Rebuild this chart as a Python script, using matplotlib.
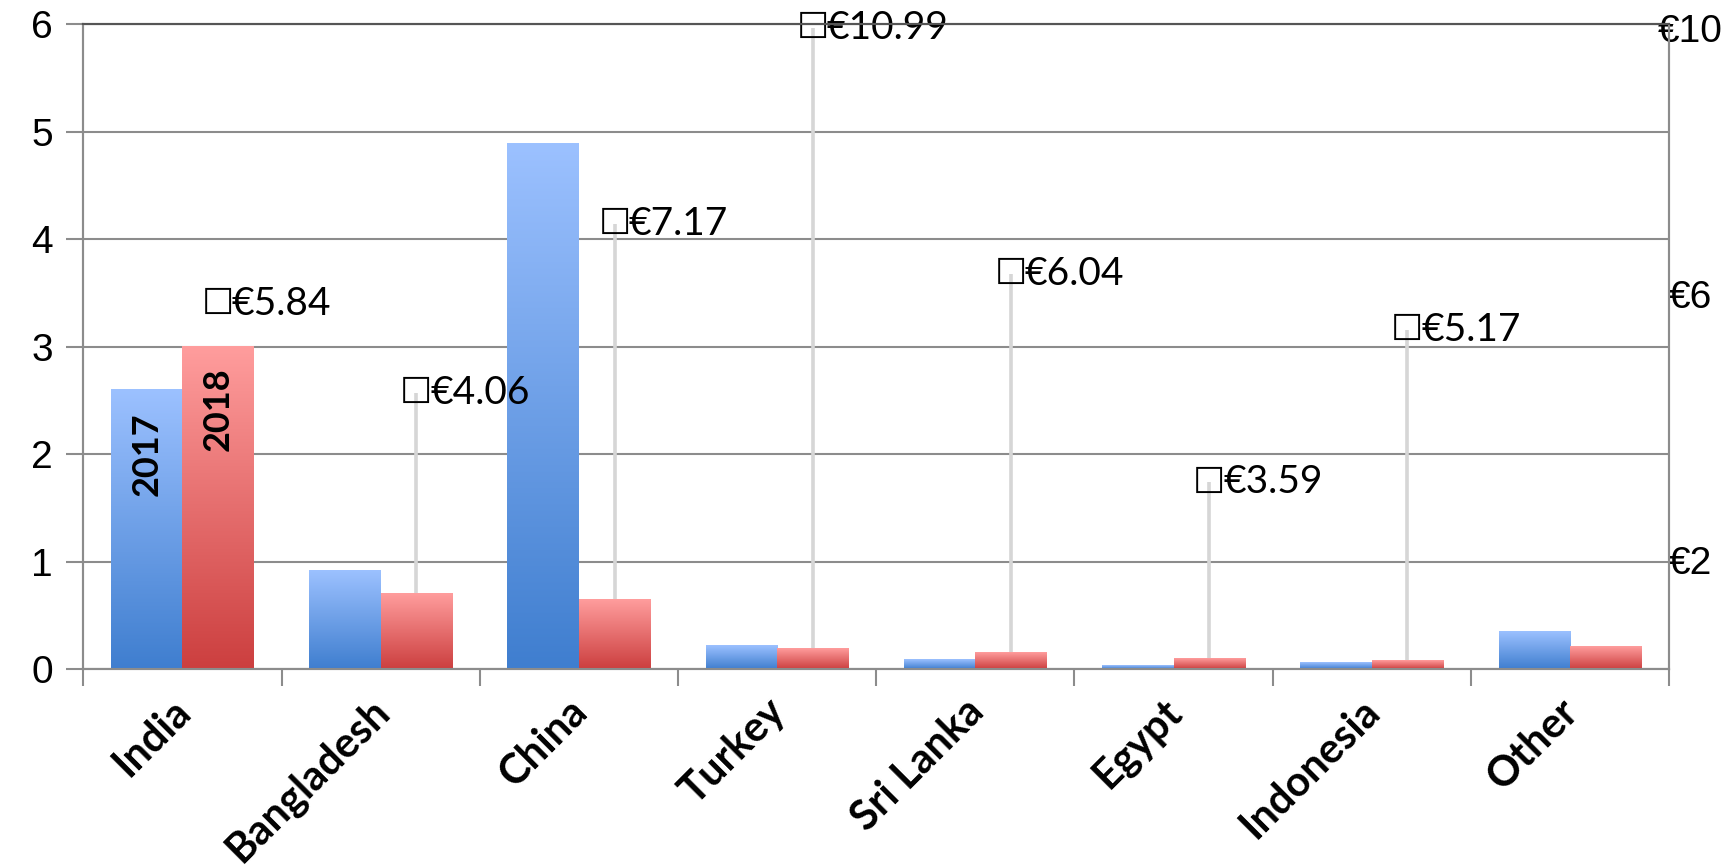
import matplotlib.pyplot as plt
import matplotlib.transforms as mtransforms
import numpy as np
from matplotlib.colors import LinearSegmentedColormap

# data
countries = ['India', 'Bangladesh', 'China', 'Turkey', 'Sri Lanka', 'Egypt', 'Indonesia', 'Other']
share_2017 = [2.60, 0.92, 4.89, 0.22, 0.09, 0.03, 0.06, 0.35]
share_2018 = [3.00, 0.70, 0.65, 0.19, 0.15, 0.10, 0.08, 0.21]
# average price per item (right axis, €) - label text and drawn level
price_text = ['€5.84', '€4.06', '€7.17', '€10.99', '€6.04', '€3.59', '€5.17']
price_level = [5.85, 4.51, 7.04, 10.0, 6.30, 3.16, 5.46]
has_drop = [False, True, True, True, True, True, True]  # India shows no drop line

left_ticks = [0, 1, 2, 3, 4, 5, 6]
right_ticks = [2, 6, 10]
right_labels = ['€2', '€6', '€10']

blue = LinearSegmentedColormap.from_list('b', ['#3f7ecf', '#9cc1ff'])
red = LinearSegmentedColormap.from_list('r', ['#cc3f3f', '#ff9d9d'])
grad = np.linspace(0, 1, 256).reshape(-1, 1)

fig = plt.figure(figsize=(17.35, 8.67), dpi=100)
ax = fig.add_axes([0.048, 0.228, 0.914, 0.744])
ax2 = ax.twinx()

w = 0.36
x = np.arange(len(countries))
for i in range(len(countries)):
    ax.imshow(grad, extent=(x[i] - w, x[i], 0, share_2017[i]), cmap=blue,
              origin='lower', aspect='auto', zorder=3)
    ax.imshow(grad, extent=(x[i], x[i] + w, 0, share_2018[i]), cmap=red,
              origin='lower', aspect='auto', zorder=3)

ax.set_xlim(-0.5, len(countries) - 0.5)
ax.set_ylim(0, 6)
ax2.set_ylim(0.35, 10.05)

# price points live on the right axis, move them into left-axis units
xp = x[:len(price_level)] + w / 2
pts = ax2.transData.transform(np.column_stack([xp, price_level]))
lev = ax.transData.inverted().transform(pts)[:, 1]
for i in range(len(price_level)):
    if has_drop[i]:
        ax.vlines(xp[i], 0, lev[i], color='#d6d6d6', lw=2.6, zorder=2)
    # the missing-glyph box of the original
    ax.annotate('☐', (xp[i], lev[i]), xytext=(0, 0), textcoords='offset points',
                ha='center', va='center', fontsize=26, family='DejaVu Sans',
                zorder=5, annotation_clip=False)
    ax.annotate(price_text[i], (xp[i], lev[i]), xytext=(10, 0),
                textcoords='offset points', ha='left', va='center',
                fontsize=28, family='Lato', zorder=5, annotation_clip=False)

ax.text(x[0] - w / 2, 2.0, '2017', rotation=90, ha='center', va='center',
        fontsize=26, fontweight='bold', family='Lato', zorder=5)
ax.text(x[0] + w / 2, 2.42, '2018', rotation=90, ha='center', va='center',
        fontsize=26, fontweight='bold', family='Lato', zorder=5)

ax.set_yticks(left_ticks)
ax.set_yticklabels([str(t) for t in left_ticks], fontsize=28, family='Liberation Sans')
ax.yaxis.grid(True, color='#8c8c8c', lw=1.5, zorder=0)
ax.set_axisbelow(True)
ax.tick_params(axis='y', length=12, width=1.5, color='#8c8c8c', pad=10)

ax.set_xticks(x)
ax.set_xticklabels(countries, rotation=45, ha='right', rotation_mode='anchor',
                   fontsize=30, fontweight='bold', family='Lato')
ax.set_xticks(np.arange(-0.5, len(countries)), minor=True)
ax.tick_params(axis='x', which='major', length=0, pad=16)
ax.tick_params(axis='x', which='minor', length=12, width=1.5, color='#8c8c8c')
shift = mtransforms.ScaledTranslation(-8 / 72, 0, fig.dpi_scale_trans)
for lbl in ax.get_xticklabels():
    lbl.set_transform(lbl.get_transform() + shift)

ax2.set_yticks(right_ticks)
ax2.set_yticklabels(right_labels, fontsize=28, family='Liberation Sans')
ax2.tick_params(axis='y', length=0, pad=0)
top_lbl = ax2.get_yticklabels()[-1]
top_lbl.set_transform(top_lbl.get_transform() +
                      mtransforms.ScaledTranslation(-8 / 72, 0, fig.dpi_scale_trans))

for a in (ax, ax2):
    for s in a.spines.values():
        s.set_color('#8c8c8c')
        s.set_linewidth(1.5)
ax.spines['top'].set_color('#555555')
ax2.spines['top'].set_color('#555555')

fig.savefig('out.png', dpi=100)
